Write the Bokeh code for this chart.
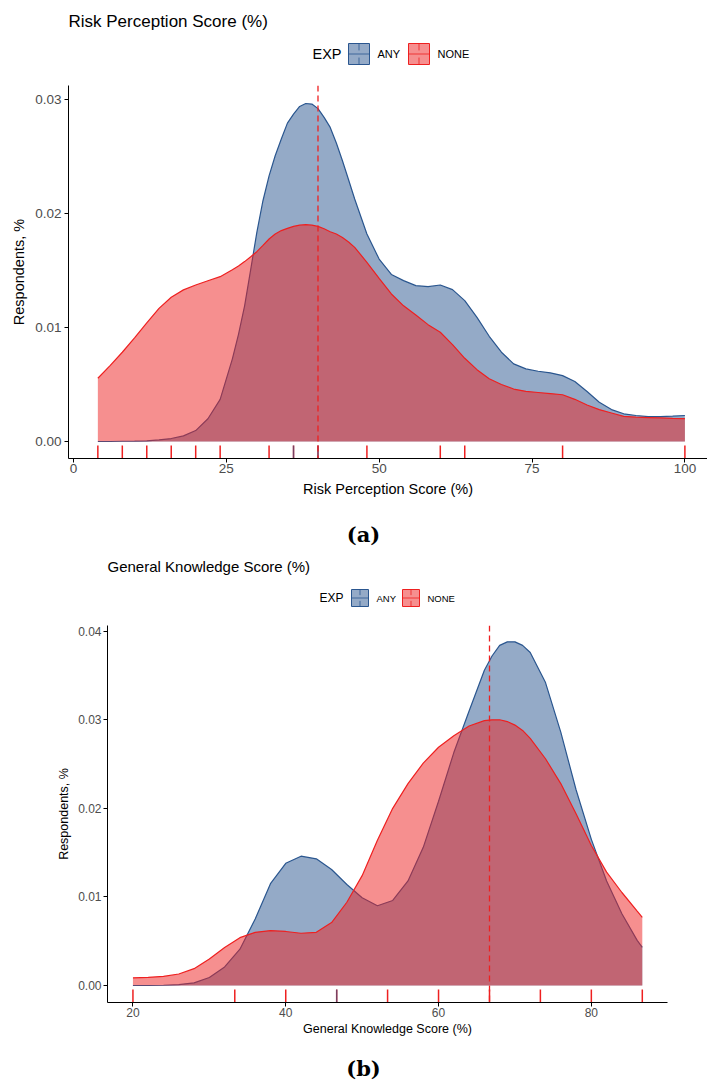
from bokeh.plotting import figure
from bokeh.models import Range1d, FixedTicker, Span
from bokeh.core.properties import value
from bokeh.embed import file_html
from bokeh.resources import INLINE

# ---------------- data ----------------
groups = ["ANY", "NONE"]
legend_title = "EXP"

risk_title = "Risk Perception Score (%)"
risk_xlabel = "Risk Perception Score (%)"
risk_ylabel = "Respondents, %"
risk_caption = "(a)"
risk_x = [4, 6, 8, 10, 12, 14, 16, 18, 20, 22, 24, 26, 27, 28, 29, 30, 31, 32, 33,
          34, 35, 36, 37, 38, 39, 40, 41, 42, 43, 44, 45, 46, 48, 50, 52, 54, 56, 58,
          60, 62, 64, 66, 68, 70, 72, 74, 76, 78, 80, 82, 84, 86, 88, 90, 92, 94, 96,
          98, 100]
risk_any = [0.0, 0.0, 0.00002, 0.00003, 0.00006, 0.00014, 0.00026, 0.00049, 0.00096,
            0.0020, 0.0037, 0.00725, 0.0094, 0.0119, 0.0151, 0.01835, 0.02112, 0.0233,
            0.02507, 0.02653, 0.02793, 0.02872, 0.02939, 0.02965, 0.0296, 0.0292,
            0.02843, 0.02755, 0.02618, 0.02463, 0.02296, 0.02127, 0.0182, 0.0160,
            0.01465, 0.01411, 0.01367, 0.01358, 0.01373, 0.01332, 0.01236, 0.01089,
            0.00923, 0.00783, 0.00681, 0.00637, 0.00616, 0.00602, 0.00578, 0.00526,
            0.00438, 0.00344, 0.0028, 0.00243, 0.00228, 0.00219, 0.00219, 0.00222,
            0.00228]
risk_none = [0.00555, 0.00666, 0.00783, 0.00909, 0.0104, 0.01168, 0.01265, 0.0133,
             0.01373, 0.0141, 0.01446, 0.01507, 0.0154, 0.01578, 0.0162, 0.01665,
             0.0172, 0.01776, 0.0182, 0.0185, 0.0187, 0.01887, 0.01898, 0.01902,
             0.01898, 0.01887, 0.01866, 0.0184, 0.0182, 0.0179, 0.0175, 0.01703,
             0.01572, 0.01431, 0.01294, 0.0119, 0.0111, 0.01025, 0.00958, 0.0085,
             0.0073, 0.0063, 0.0055, 0.0050, 0.0046, 0.0044, 0.0043, 0.0042, 0.0041,
             0.0037, 0.0032, 0.0028, 0.0025, 0.0022, 0.00213, 0.0021, 0.00207, 0.00203,
             0.0020]
risk_rug_none = [4, 8, 12, 16, 20, 24, 32, 36, 40, 48, 60, 64, 80, 100]
risk_rug_any = [36, 40]
risk_median = 40
risk_xticks = [0, 25, 50, 75, 100]
risk_yticks = [0, 0.01, 0.02, 0.03]
risk_ylabels = ["0.00", "0.01", "0.02", "0.03"]

know_title = "General Knowledge Score (%)"
know_xlabel = "General Knowledge Score (%)"
know_ylabel = "Respondents, %"
know_caption = "(b)"
know_x = [20, 22, 24, 26, 28, 30, 32, 34, 36, 38, 40, 42, 44, 46, 48, 50, 52, 54, 56,
          58, 60, 62, 64, 66, 67, 68, 69, 70, 71, 72, 74, 76, 78, 80, 82, 84, 86, 86.67]
know_any = [0.0, 0.0, 0.00003, 0.0001, 0.0003, 0.0009, 0.0021, 0.0041, 0.0075, 0.0115,
            0.0138, 0.0146, 0.0143, 0.0131, 0.0114, 0.0099, 0.0090, 0.0096, 0.0118,
            0.0156, 0.0208, 0.0263, 0.0310, 0.0356, 0.0372, 0.0384, 0.0388, 0.0388,
            0.0384, 0.0376, 0.0342, 0.0286, 0.0221, 0.0165, 0.0118, 0.0081, 0.0051,
            0.0043]
know_none = [0.00087, 0.00092, 0.00102, 0.0013, 0.0019, 0.0030, 0.0043, 0.0054, 0.0060,
             0.0062, 0.0061, 0.0059, 0.0060, 0.0071, 0.0094, 0.0124, 0.0164, 0.0200,
             0.0228, 0.0251, 0.0269, 0.0282, 0.0293, 0.0299, 0.03, 0.0300, 0.0298,
             0.0294, 0.0288, 0.0279, 0.0256, 0.0228, 0.0194, 0.0158, 0.0128, 0.0105,
             0.0084, 0.0077]
know_rug_none = [20, 33.33, 40, 46.67, 53.33, 60, 66.67, 73.33, 80, 86.67]
know_rug_any = [46.67]
know_median = 66.67
know_xticks = [20, 40, 60, 80]
know_yticks = [0, 0.01, 0.02, 0.03, 0.04]
know_ylabels = ["0.00", "0.01", "0.02", "0.03", "0.04"]

# ---------------- style ----------------
BLUE = "#2A568F"
RED = "#EE2020"
COLORS = [BLUE, RED]
FONT = "Liberation Sans"
SERIF = "DejaVu Serif"
TICK_COLOR = "#4D4D4D"
PAGE_W = 707


def chart(cfg, xs, d_any, d_none, rug_none, rug_any, median, xticks, yticks,
          ylabels, xlabel, ylabel):
    L, T, R, B = cfg["frame"]
    top, H = cfg["top"], cfg["height"]
    x0, xppu = cfg["x_start"], cfg["x_ppu"]
    zero_px, yppu = cfg["zero_px"], cfg["y_ppu"]
    x_end = x0 + (R - L) / xppu
    y_start = -(B - zero_px) / yppu
    y_end = (zero_px - T) / yppu

    p = figure(width=PAGE_W, height=H, x_range=Range1d(x0, x_end),
               y_range=Range1d(y_start, y_end), output_backend="svg",
               toolbar_location=None, min_border_left=L,
               min_border_right=PAGE_W - R, min_border_top=T - top,
               min_border_bottom=top + H - B)
    p.outline_line_color = None
    p.xgrid.grid_line_color = None
    p.ygrid.grid_line_color = None
    p.background_fill_color = "white"
    p.border_fill_color = "white"

    p.varea(x=xs, y1=0, y2=d_any, fill_color=BLUE, fill_alpha=0.5)
    p.line(xs, d_any, line_color=BLUE, line_width=1.2)
    p.varea(x=xs, y1=0, y2=d_none, fill_color=RED, fill_alpha=0.5)
    p.line(xs, d_none, line_color=RED, line_width=1.2)

    rug_top = y_start + cfg["rug_px"] / yppu
    p.segment(x0=rug_none, x1=rug_none, y0=y_start, y1=rug_top,
              line_color=RED, line_width=1.5)
    p.segment(x0=rug_any, x1=rug_any, y0=y_start, y1=rug_top,
              line_color=BLUE, line_alpha=0.6, line_width=1.5)

    p.add_layout(Span(location=median, dimension="height", line_color=RED,
                      line_dash="6 4", line_width=1.3))

    for ax in (p.xaxis[0], p.yaxis[0]):
        ax.axis_line_color = "black"
        ax.axis_line_width = 1
        ax.major_tick_line_color = "black"
        ax.major_tick_out = 4
        ax.major_tick_in = 0
        ax.minor_tick_line_color = None
        ax.major_label_text_font = FONT
        ax.major_label_text_font_size = cfg["tick_size"]
        ax.major_label_text_color = TICK_COLOR
        ax.axis_label_text_font = FONT
        ax.axis_label_text_font_size = cfg["label_size"]
        ax.axis_label_text_font_style = "normal"
        ax.axis_label_text_color = "black"
    p.xaxis.ticker = FixedTicker(ticks=xticks)
    p.yaxis.ticker = FixedTicker(ticks=yticks)
    p.yaxis.major_label_overrides = {t: s for t, s in zip(yticks, ylabels)}
    p.xaxis.axis_label = xlabel
    p.yaxis.axis_label = ylabel
    p.xaxis.major_label_standoff = cfg["x_std"][0]
    p.xaxis.axis_label_standoff = cfg["x_std"][1]
    p.yaxis.major_label_standoff = cfg["y_std"][0]
    p.yaxis.axis_label_standoff = cfg["y_std"][1]
    return p


def strip(top, height):
    """A text strip (titles, legends, captions); y runs downward in page pixels."""
    p = figure(width=PAGE_W, height=height, x_range=Range1d(0, PAGE_W),
               y_range=Range1d(top + height, top), output_backend="svg",
               toolbar_location=None, min_border=0, x_axis_location=None,
               y_axis_location=None)
    p.outline_line_color = None
    p.xgrid.visible = False
    p.ygrid.visible = False
    p.background_fill_color = "white"
    p.border_fill_color = "white"
    return p


def add_text(p, x, y, text, size, align="left", font=FONT, style="normal",
             color="black"):
    p.text(x=[x], y=[y], text=[text], text_font=value(font),
           text_font_size=value(size), text_font_style=style,
           text_color=color, text_align=align, text_baseline="middle")


def add_title_legend(p, lg):
    add_text(p, lg["title_x"], lg["title_y"], lg["title"], lg["title_size"])
    cy = lg["cy"]
    add_text(p, lg["exp_x"], cy, legend_title, lg["exp_size"])
    w = lg["box"]
    for g, col, bx, tx in zip(groups, COLORS, lg["box_x"], lg["label_x"]):
        p.quad(left=[bx], right=[bx + w], top=[cy - w / 2], bottom=[cy + w / 2],
               fill_color=col, fill_alpha=0.5, line_color=col, line_width=1)
        p.segment(x0=[bx], x1=[bx + w], y0=[cy], y1=[cy], line_color=col,
                  line_width=0.8)
        p.segment(x0=[bx + w / 2] * 2, x1=[bx + w / 2] * 2,
                  y0=[cy - w / 2, cy + w * 0.17], y1=[cy - w * 0.17, cy + w / 2],
                  line_color=col, line_width=0.8)
        add_text(p, tx, cy, g, lg["label_size"])


cfg_a = dict(top=85, height=420, frame=(68, 85, 707, 458),
             x_start=-0.8, x_ppu=6.115, zero_px=441, y_ppu=11400, rug_px=13,
             tick_size="13.5px", label_size="14.5px", x_std=(1, 5), y_std=(3, 5))
cfg_b = dict(top=625, height=415, frame=(107, 625, 667, 1002),
             x_start=16.67, x_ppu=7.64, zero_px=985, y_ppu=8857, rug_px=13,
             tick_size="12px", label_size="12.5px", x_std=(1, 2), y_std=(2, 4))

leg_a = dict(title=risk_title, title_x=68, title_y=20.5, title_size="17px",
             exp_x=312, exp_size="14.5px", cy=53.5, box=21, box_x=[348, 408],
             label_x=[377, 437], label_size="11px")
leg_b = dict(title=know_title, title_x=107, title_y=566, title_size="15px",
             exp_x=319, exp_size="12px", cy=597.5, box=17, box_x=[351, 402],
             label_x=[376, 427], label_size="9.5px")

head_a = strip(0, 85)
add_title_legend(head_a, leg_a)

pa = chart(cfg_a, risk_x, risk_any, risk_none, risk_rug_none, risk_rug_any,
           risk_median, risk_xticks, risk_yticks, risk_ylabels, risk_xlabel,
           risk_ylabel)

mid = strip(505, 120)
add_text(mid, 363, 534, risk_caption, "21px", align="center", font=SERIF,
         style="bold")
add_title_legend(mid, leg_b)

pb = chart(cfg_b, know_x, know_any, know_none, know_rug_none, know_rug_any,
           know_median, know_xticks, know_yticks, know_ylabels, know_xlabel,
           know_ylabel)

foot = strip(1040, 44)
add_text(foot, 363, 1068, know_caption, "21px", align="center", font=SERIF,
         style="bold")

open("out.html", "w").write(file_html([head_a, pa, mid, pb, foot], INLINE))
